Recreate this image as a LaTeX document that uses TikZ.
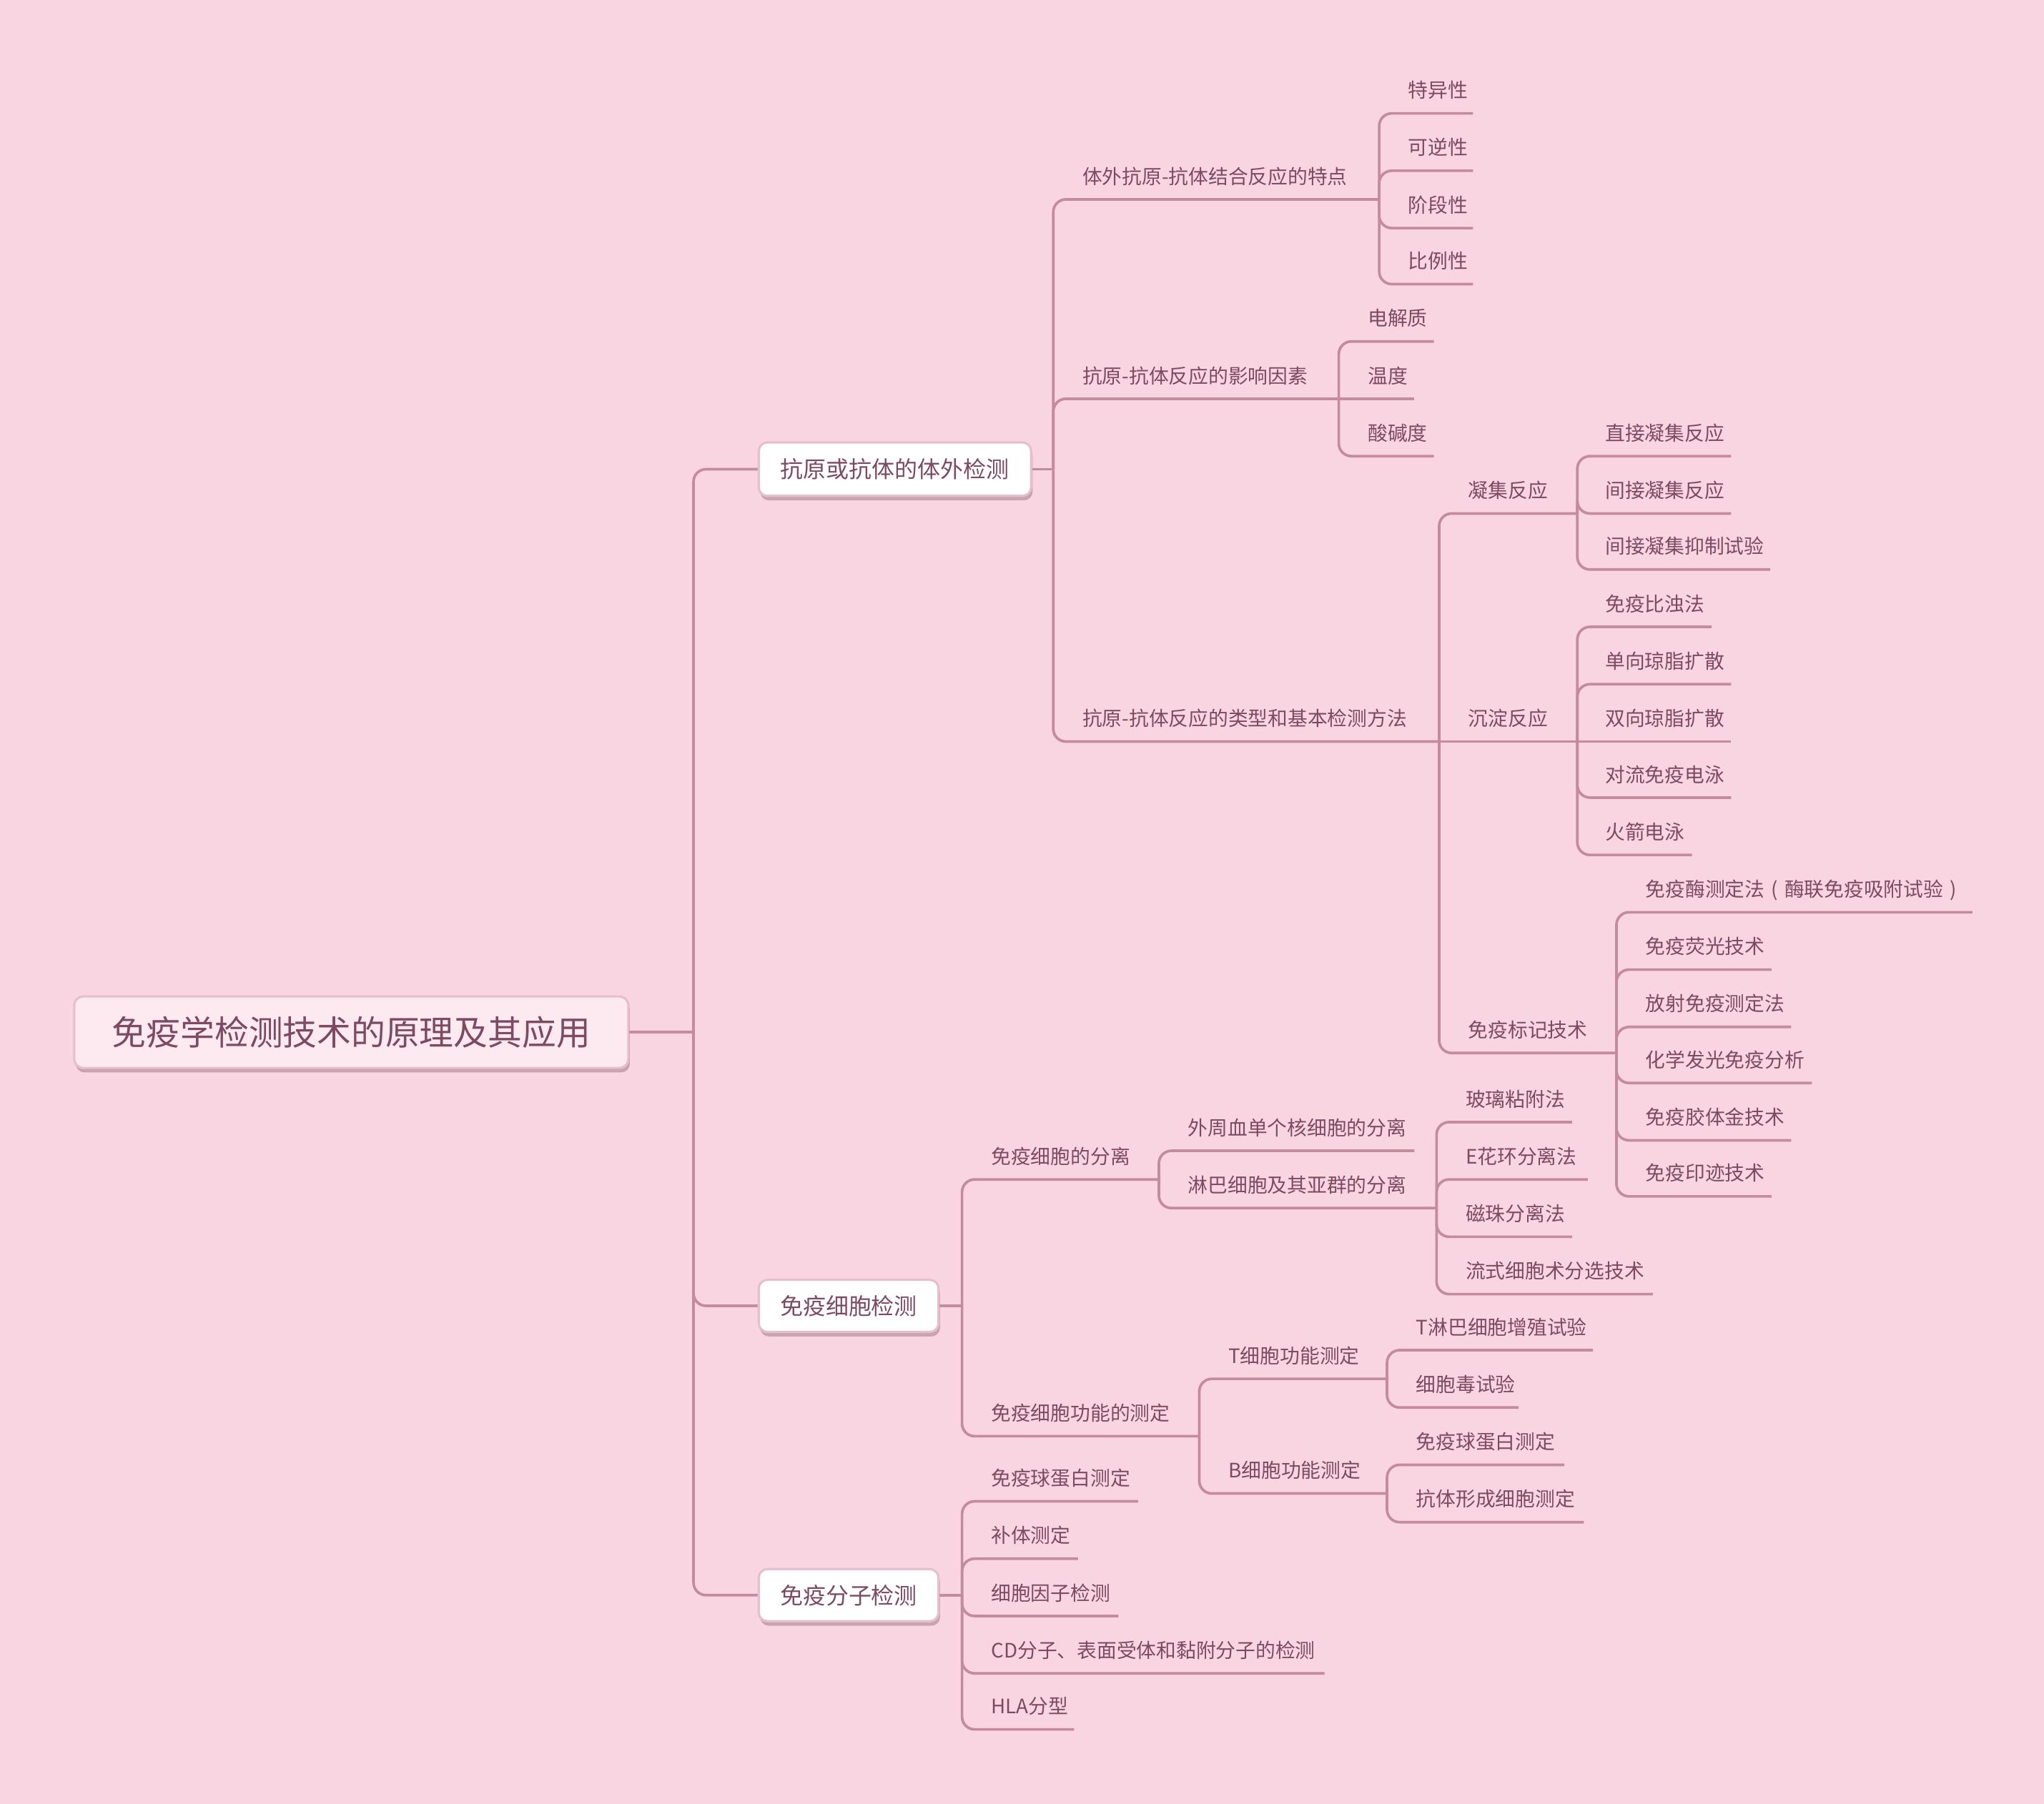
\documentclass[tikz,border=0pt]{standalone}
\usepackage{fontspec}
\setmainfont{Noto Sans CJK SC}
\usetikzlibrary{shadows}
\definecolor{bg}{HTML}{F9D5E1}
\definecolor{ln}{HTML}{C48A9E}
\definecolor{tx}{HTML}{7E4A62}
\definecolor{rootfill}{HTML}{FDE9F0}
\definecolor{boxline}{HTML}{E6BFCD}
\definecolor{shd}{HTML}{8E6A78}
\newcommand\mmleaf[5]{\node[lbl] (#1) at (#2,{#3-12}) {#5}; \coordinate (#1e) at (#4,#3);}
\begin{document}
\begin{tikzpicture}[x=0.018234cm,y=-0.018234cm,
 conn/.style={draw=ln,line width=1.05pt,rounded corners=5pt},
 lbl/.style={text=tx,font=\fontsize{7.9}{9}\selectfont,inner sep=0pt,anchor=base west},
 box/.style={draw=boxline,line width=0.9pt,fill=white,rounded corners=3.5pt,text=tx,inner sep=0pt,
   drop shadow={shadow xshift=0.6pt,shadow yshift=-1.8pt,fill=shd,opacity=0.45}},
]
\fill[bg] (0,0) rectangle (1568,1384);
\useasboundingbox (0,0) rectangle (1568,1384);

% level 0 and 1
\node[box,fill=rootfill,minimum width=7.75cm,minimum height=1.0cm,font=\fontsize{13.6}{16}\selectfont] (r) at (269.5,792) {免疫学检测技术的原理及其应用};
\node[box,minimum width=3.811cm,minimum height=0.748cm,font=\fontsize{9.1}{11}\selectfont] (b1) at (686.5,360) {抗原或抗体的体外检测};
\node[box,minimum width=2.516cm,minimum height=0.73cm,font=\fontsize{9.1}{11}\selectfont] (b2) at (651,1002) {免疫细胞检测};
\node[box,minimum width=2.516cm,minimum height=0.73cm,font=\fontsize{9.1}{11}\selectfont] (b3) at (651,1224) {免疫分子检测};
\coordinate (rj) at (532,792);
\coordinate (b1j) at (808,360);
\coordinate (b2j) at (738,1002);
\coordinate (b3j) at (738,1224);

% branch 1
\mmleaf{a}{830}{153}{1058}{体外抗原-抗体结合反应的特点}
\mmleaf{a1}{1080}{87}{1130}{特异性}
\mmleaf{a2}{1080}{131}{1130}{可逆性}
\mmleaf{a3}{1080}{175}{1130}{阶段性}
\mmleaf{a4}{1080}{218}{1130}{比例性}
\mmleaf{b}{830}{306}{1027}{抗原-抗体反应的影响因素}
\mmleaf{bb1}{1049}{262}{1100}{电解质}
\mmleaf{bb2}{1049}{306}{1085}{温度}
\mmleaf{bb3}{1049}{350}{1100}{酸碱度}
\mmleaf{c}{830}{569}{1104}{抗原-抗体反应的类型和基本检测方法}
\mmleaf{c1}{1126}{394}{1210}{凝集反应}
\mmleaf{c11}{1231}{350}{1328}{直接凝集反应}
\mmleaf{c12}{1231}{394}{1328}{间接凝集反应}
\mmleaf{c13}{1231}{437}{1358}{间接凝集抑制试验}
\mmleaf{c2}{1126}{569}{1210}{沉淀反应}
\mmleaf{c21}{1231}{481}{1313}{免疫比浊法}
\mmleaf{c22}{1231}{525}{1328}{单向琼脂扩散}
\mmleaf{c23}{1231}{569}{1328}{双向琼脂扩散}
\mmleaf{c24}{1231}{612}{1328}{对流免疫电泳}
\mmleaf{c25}{1231}{656}{1298}{火箭电泳}
\mmleaf{c3}{1126}{808}{1240}{免疫标记技术}
\mmleaf{c31}{1262}{700}{1513}{免疫酶测定法\makebox[1em]{(}酶联免疫吸附试验\makebox[1em]{)}}
\mmleaf{c32}{1262}{744}{1359}{免疫荧光技术}
\mmleaf{c33}{1262}{788}{1374}{放射免疫测定法}
\mmleaf{c34}{1262}{831}{1390}{化学发光免疫分析}
\mmleaf{c35}{1262}{875}{1374}{免疫胶体金技术}
\mmleaf{c36}{1262}{918}{1359}{免疫印迹技术}

% branch 2
\mmleaf{d}{760}{905}{889}{免疫细胞的分离}
\mmleaf{d1}{911}{883}{1085}{外周血单个核细胞的分离}
\mmleaf{d2}{911}{927}{1102}{淋巴细胞及其亚群的分离}
\mmleaf{d21}{1124}{861}{1206}{玻璃粘附法}
\mmleaf{d22}{1124}{905}{1218}{E花环分离法}
\mmleaf{d23}{1124}{949}{1206}{磁珠分离法}
\mmleaf{d24}{1124}{993}{1268}{流式细胞术分选技术}
\mmleaf{e}{760}{1102}{920}{免疫细胞功能的测定}
\mmleaf{e1}{942}{1058}{1064}{T细胞功能测定}
\mmleaf{e11}{1086}{1036}{1222}{T淋巴细胞增殖试验}
\mmleaf{e12}{1086}{1080}{1165}{细胞毒试验}
\mmleaf{e2}{942}{1146}{1064}{B细胞功能测定}
\mmleaf{e21}{1086}{1124}{1200}{免疫球蛋白测定}
\mmleaf{e22}{1086}{1168}{1215}{抗体形成细胞测定}

% branch 3
\mmleaf{f1}{760}{1152}{873}{免疫球蛋白测定}
\mmleaf{f2}{760}{1196}{827}{补体测定}
\mmleaf{f3}{760}{1240}{858}{细胞因子检测}
\mmleaf{f4}{760}{1284}{1016}{CD分子、表面受体和黏附分子的检测}
\mmleaf{f5}{760}{1327}{824}{HLA分型}

% connectors
\draw[conn] (r.east) -- (rj);
\foreach \t in {b1,b2,b3} \draw[conn] (rj) |- (\t.west);
\draw[conn] (b1.east) -- (b1j);
\draw[conn] (b2.east) -- (b2j);
\draw[conn] (b3.east) -- (b3j);
\foreach \t in {a,b,c} \draw[conn] (b1j) |- (\t e);
\foreach \t in {a1,a2,a3,a4} \draw[conn] (ae) |- (\t e);
\foreach \t in {bb1,bb3} \draw[conn] (be) |- (\t e);
\draw[conn] (be) -- (bb2e);
\foreach \t in {c1,c3} \draw[conn] (ce) |- (\t e);
\draw[conn] (ce) -- (c2e);
\foreach \t in {c11,c12,c13} \draw[conn] (c1e) |- (\t e);
\foreach \t in {c21,c22,c24,c25} \draw[conn] (c2e) |- (\t e);
\draw[conn] (c2e) -- (c23e);
\foreach \t in {c31,c32,c33,c34,c35,c36} \draw[conn] (c3e) |- (\t e);
\foreach \t in {d,e} \draw[conn] (b2j) |- (\t e);
\foreach \t in {d1,d2} \draw[conn] (de) |- (\t e);
\foreach \t in {d21,d22,d23,d24} \draw[conn] (d2e) |- (\t e);
\foreach \t in {e1,e2} \draw[conn] (ee) |- (\t e);
\foreach \t in {e11,e12} \draw[conn] (e1e) |- (\t e);
\foreach \t in {e21,e22} \draw[conn] (e2e) |- (\t e);
\foreach \t in {f1,f2,f3,f4,f5} \draw[conn] (b3j) |- (\t e);
\end{tikzpicture}
\end{document}
